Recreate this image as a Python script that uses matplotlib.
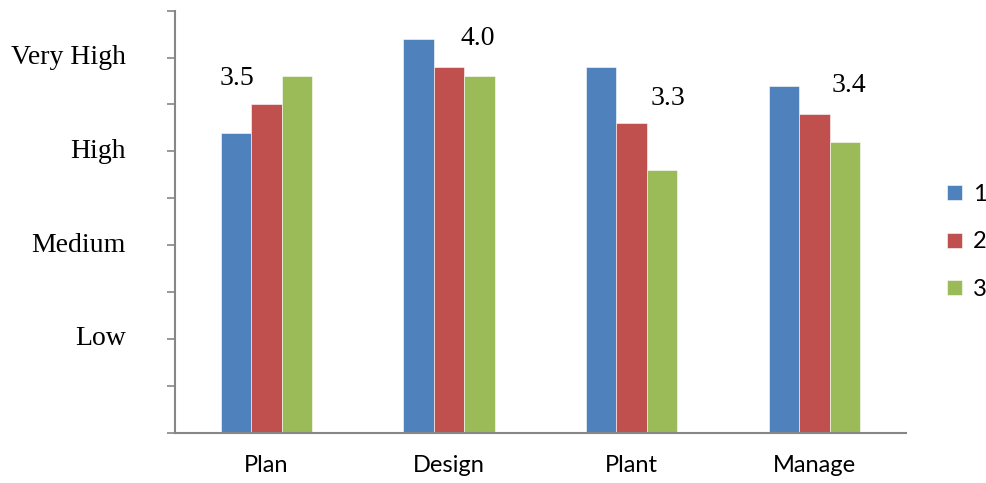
import matplotlib
matplotlib.use("Agg")
import matplotlib.pyplot as plt
import numpy as np

categories = ["Plan", "Design", "Plant", "Manage"]
series_names = ["1", "2", "3"]
series_1 = [3.2, 4.2, 3.9, 3.7]
series_2 = [3.5, 3.9, 3.3, 3.4]
series_3 = [3.8, 3.8, 2.8, 3.1]
level_values = [1, 2, 3, 4]
level_labels = ["Low", "Medium", "High", "Very High"]

colors = ["#4F81BD", "#C0504D", "#9BBB59"]

# placement of the average labels, relative to each group centre
avg_label_dx = [-0.16, 0.16, 0.20, 0.19]
avg_label_y = [3.78, 4.2, 3.56, 3.7]

fig = plt.figure(figsize=(9.86, 4.83), dpi=100)
ax = fig.add_axes([175 / 986, 1 - 432.7 / 483, (905.7 - 175) / 986, (432.7 - 10.7) / 483])

x = np.arange(len(categories))
width = 1 / 6
all_series = [series_1, series_2, series_3]
for i, (vals, name) in enumerate(zip(all_series, series_names)):
    ax.bar(x + (i - 1) * width, vals, width, color=colors[i], label=name,
           edgecolor="#ffffff", linewidth=0.4)

means = np.mean(np.array(all_series), axis=0)
for xi, m, dx, ly in zip(x, means, avg_label_dx, avg_label_y):
    ax.text(xi + dx, ly, f"{m:.1f}", ha="center", va="center",
            fontsize=20, family="Liberation Serif", color="black")

ax.set_xlim(-0.5, len(categories) - 0.5)
ax.set_ylim(0, 4.5)
ax.set_yticks(np.arange(0, 4.51, 0.5))
ax.set_yticklabels([""] * 10)
for v, lab in zip(level_values, level_labels):
    ax.text(-0.77, v, lab, ha="right", va="center", fontsize=20,
            family="Liberation Serif", color="black", transform=ax.transData)

ax.set_xticks(x)
ax.set_xticklabels(categories, fontsize=17, family="Lato")
ax.tick_params(axis="x", length=0, pad=16)
ax.tick_params(axis="y", length=6, width=1.2, color="#868686", direction="out")

for s in ["top", "right"]:
    ax.spines[s].set_visible(False)
for s in ["left", "bottom"]:
    ax.spines[s].set_color("#868686")
    ax.spines[s].set_linewidth(1.5)

leg = fig.legend(*ax.get_legend_handles_labels(), loc="center left",
                 bbox_to_anchor=(947 / 986, 1 - 242 / 483), frameon=False,
                 prop={"family": "Lato", "size": 17}, handlelength=0.65,
                 handleheight=0.6, labelspacing=1.12, handletextpad=0.45,
                 borderpad=0, borderaxespad=0)

fig.savefig("out.png", dpi=100)
